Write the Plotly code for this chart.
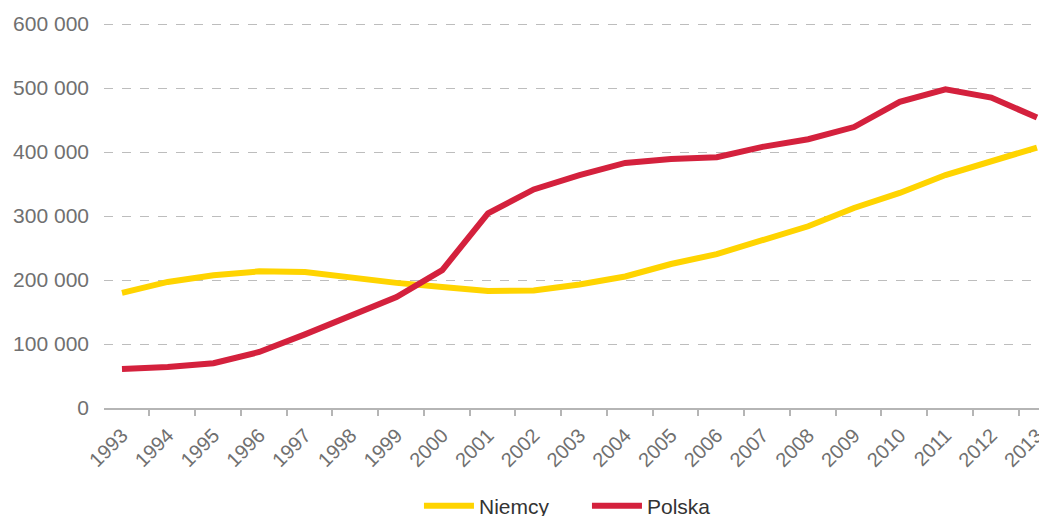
import plotly.graph_objects as go

years = list(range(1993, 2014))
niemcy = [180000, 197000, 207500, 213500, 212500, 203000, 195500, 189000, 183000, 183500,
          193000, 205500, 225000, 240500, 262500, 284000, 312500, 336000, 364000, 386000, 407000]
polska = [61000, 64000, 70000, 87500, 115000, 145000, 173500, 215500, 304000, 341500,
          364000, 383000, 389000, 392000, 408000, 420000, 439000, 478500, 498000, 485000, 454000]
y_ticks = [0, 100000, 200000, 300000, 400000, 500000, 600000]

YELLOW = "#FFD400"
RED = "#D4213D"
FONT = "Liberation Sans"
GRAY = "#707070"

x_range = [1992.607, 2013.219]
boundaries = [y - 0.4 for y in years]

fig = go.Figure()
fig.add_trace(go.Scatter(x=years, y=niemcy, name="Niemcy", mode="lines",
                         line=dict(color=YELLOW, width=6)))
fig.add_trace(go.Scatter(x=years, y=polska, name="Polska", mode="lines",
                         line=dict(color=RED, width=6)))
# invisible trace to anchor tick-mark axis
fig.add_trace(go.Scatter(x=[years[0]], y=[0], xaxis="x2", mode="markers",
                         marker=dict(opacity=0), showlegend=False, hoverinfo="skip"))

fig.update_layout(
    width=1047, height=516,
    margin=dict(l=96, r=8, t=15, b=116, pad=0, autoexpand=False),
    paper_bgcolor="white", plot_bgcolor="white",
    separators=", ",
    font=dict(family=FONT, color=GRAY, size=19),
    xaxis=dict(range=x_range, tickvals=years, ticktext=[str(y) for y in years],
               tickangle=-45, showgrid=False, zeroline=False, showline=True,
               linecolor="#b5b5b5", linewidth=1.5, ticks="", automargin=False,
               ticklabelstandoff=6,
               tickfont=dict(size=20, color=GRAY, family=FONT)),
    xaxis2=dict(range=x_range, overlaying="x", side="bottom", anchor="y",
                tickvals=boundaries, showticklabels=False, ticks="outside",
                ticklen=7, tickcolor="#b5b5b5", tickwidth=1.5, showgrid=False,
                zeroline=False, showline=False, automargin=False),
    yaxis=dict(range=[0, 601600], tickvals=y_ticks, tickformat=",d",
               showgrid=True, gridcolor="#bdbdbd", griddash="dash", gridwidth=1,
               zeroline=False, showline=False, ticks="", ticklabelstandoff=14,
               automargin=False,
               tickfont=dict(size=21, color=GRAY, family=FONT)),
    legend=dict(orientation="h", x=0.334, xanchor="left", y=-0.255, yanchor="middle",
                font=dict(size=21, color="#333333", family=FONT),
                itemwidth=50, entrywidth=103, entrywidthmode="pixels",
                traceorder="normal"),
    showlegend=True,
)

fig.write_html("out.html")
